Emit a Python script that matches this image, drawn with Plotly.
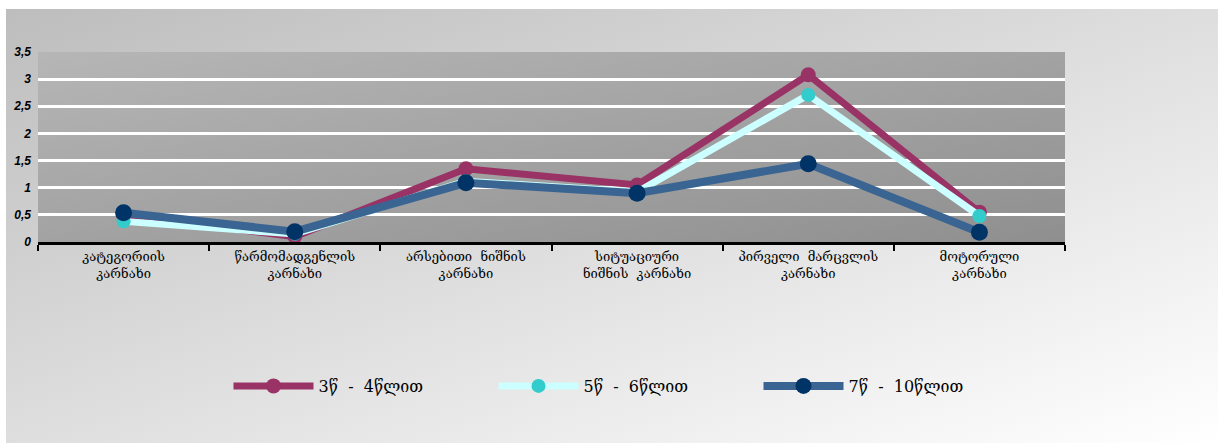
import base64
import plotly.graph_objects as go

# Speech-dictation task categories (Georgian)
categories = [
    "კატეგორიის კარნახი",
    "წარმომადგენლის კარნახი",
    "არსებითი ნიშნის კარნახი",
    "სიტუაციური ნიშნის კარნახი",
    "პირველი მარცვლის კარნახი",
    "მოტორული კარნახი",
]
tick_labels = [
    "კატეგორიის<br>კარნახი",
    "წარმომადგენლის<br>კარნახი",
    "არსებითი  ნიშნის<br>კარნახი",
    "სიტუაციური<br>ნიშნის  კარნახი",
    "პირველი  მარცვლის<br>კარნახი",
    "მოტორული<br>კარნახი",
]

# Mean scores per age group
age_3_4 = [0.50, 0.10, 1.35, 1.05, 3.08, 0.55]
age_5_6 = [0.38, 0.15, 1.12, 0.92, 2.71, 0.48]
age_7_10 = [0.54, 0.19, 1.09, 0.90, 1.44, 0.18]

series_names = ["3წ  -  4წლით", "5წ  -  6წლით", "7წ  -  10წლით"]


def gradient_svg(c0, c1, x2, y2):
    svg = (
        '<svg xmlns="http://www.w3.org/2000/svg" width="100" height="100" '
        'viewBox="0 0 100 100" preserveAspectRatio="none">'
        '<defs><linearGradient id="g" x1="0" y1="0" x2="%s" y2="%s">'
        '<stop offset="0" stop-color="%s"/><stop offset="1" stop-color="%s"/>'
        '</linearGradient></defs>'
        '<rect width="100" height="100" fill="url(#g)"/></svg>'
    ) % (x2, y2, c0, c1)
    return "data:image/svg+xml;base64," + base64.b64encode(svg.encode()).decode()


fig = go.Figure()

fig.add_trace(go.Scatter(
    x=categories, y=age_3_4, name=series_names[0], mode="lines+markers",
    line=dict(color="#993366", width=7),
    marker=dict(color="#993366", size=15),
))
fig.add_trace(go.Scatter(
    x=categories, y=age_5_6, name=series_names[1], mode="lines+markers",
    line=dict(color="#CCFFFF", width=7),
    marker=dict(color="#33CCCC", size=14),
))
fig.add_trace(go.Scatter(
    x=categories, y=age_7_10, name=series_names[2], mode="lines+markers",
    line=dict(color="#3A6592", width=8),
    marker=dict(color="#003366", size=17),
))

W, H = 1218, 443
L, R, T, B = 38, 153, 52, 201
pw, ph = W - L - R, H - T - B

fig.update_layout(
    width=W, height=H,
    margin=dict(l=L, r=R, t=T, b=B),
    paper_bgcolor="white",
    plot_bgcolor="rgba(0,0,0,0)",
    separators=",.",
    showlegend=True,
    legend=dict(
        orientation="h", x=(626 - L) / pw, xanchor="center", y=(T + ph - 386) / ph,
        yanchor="middle", bgcolor="rgba(0,0,0,0)",
        font=dict(family="DejaVu Serif", size=16, color="black"),
        itemwidth=80, entrywidth=170, entrywidthmode="pixels",
    ),
    images=[
        dict(
            source=gradient_svg("#bdbdbd", "#ffffff", "1", "1"),
            xref="paper", yref="paper",
            x=(6 - L) / pw, y=(T + ph - 9) / ph,
            sizex=(W - 6) / pw, sizey=(H - 9) / ph,
            xanchor="left", yanchor="top", sizing="stretch", layer="below",
        ),
        dict(
            source=gradient_svg("#b6b6b6", "#8f8f8f", "1", "1"),
            xref="paper", yref="paper", x=0, y=1, sizex=1, sizey=1,
            xanchor="left", yanchor="top", sizing="stretch", layer="below",
        ),
    ],
)

fig.update_xaxes(
    type="category", categoryorder="array", categoryarray=categories,
    tickvals=categories, ticktext=tick_labels,
    tickson="boundaries", ticks="outside", ticklen=6, tickwidth=2,
    tickcolor="black", showline=True, linecolor="black", linewidth=3,
    showgrid=False, range=[-0.5, 5.5],
    tickfont=dict(family="DejaVu Serif", size=13, color="black"),
)
fig.update_yaxes(
    range=[0, 3.5], dtick=0.5, showgrid=True, gridcolor="white", gridwidth=2.5,
    zeroline=False, showline=False, ticks="", ticklabelstandoff=6,
    tickfont=dict(family="Liberation Sans", size=12, color="black",
                  weight="bold", style="italic"),
)

fig.write_html("out.html")
